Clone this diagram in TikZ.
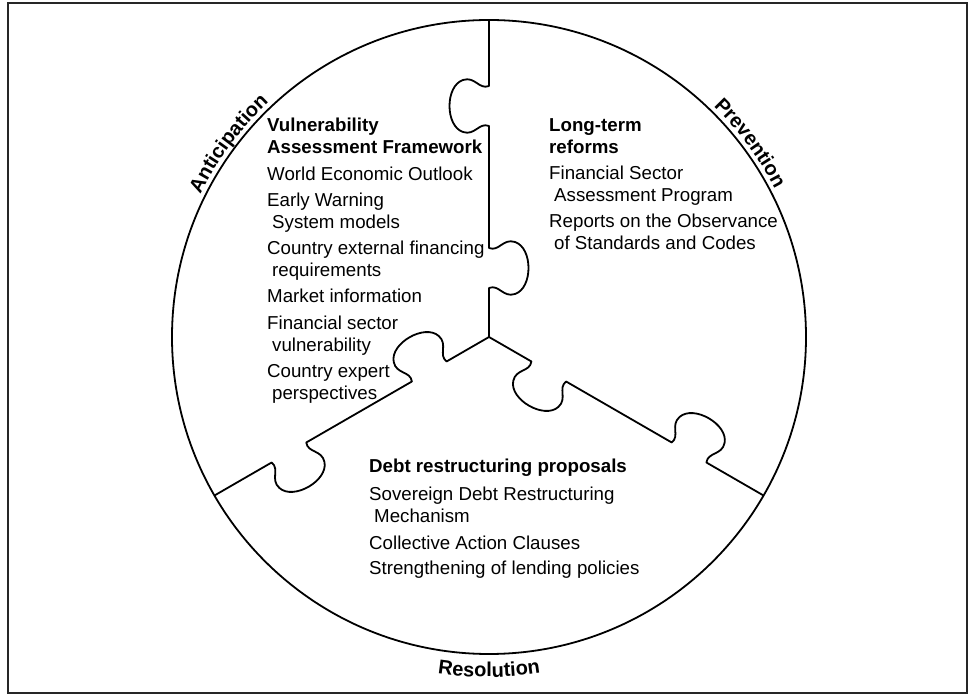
\documentclass[tikz,border=0pt]{standalone}
\usepackage{fontspec}
\setmainfont{Liberation Sans}
\usetikzlibrary{decorations.text}
\newcommand\bodyfont{\fontsize{18.7}{22}\selectfont}
\newcommand\arcfont{\fontsize{20}{24}\selectfont\bfseries}
\tikzset{
    x=1pt, y=1pt, % one unit is one pixel of the layout
    puzzle/.style={line width=1.8pt, line join=round}, % circle and the borders of the pieces
    knob/.style n args={2}{insert path={-- (#1,0) .. controls (#1+4,10*#2) and (#1-10,14*#2) .. (#1-6,26*#2) .. controls (#1,44*#2) and (#1+40,44*#2) .. (#1+46,26*#2) .. controls (#1+50,14*#2) and (#1+36,10*#2) .. (#1+40,0)}}, % one tab of a piece
    column/.style={anchor=north west, align=left, inner sep=0pt, font=\bodyfont}, % text of a piece
    arclabel/.style={decorate, decoration={text along path, text align=center, text={|\arcfont|#1}}} % name on the rim
}

\begin{document}
\begin{tikzpicture}
		\useasboundingbox (0,0) rectangle (975,696);
		\draw[line width=2.5pt, black!85] (8,3) rectangle (967,693);
		\coordinate (C) at (489,359);

		% Pieces
		\draw[puzzle] (C) circle[radius=317];
		\foreach \ang in {90,210,330}
			\draw[puzzle, shift={(C)}, rotate=\ang] (0,0) [knob={49}{-1}] [knob={211}{1}] -- (317,0);

		% Texts
		\node[column] (vaf) at (267,578) {\textbf{Vulnerability}\\
			\textbf{Assessment Framework}\\[4.3pt]
			World Economic Outlook\\[4.3pt]
			Early Warning\\
			\hspace*{5pt}System models\\[4.3pt]
			Country external financing\\
			\hspace*{5pt}requirements\\[4.3pt]
			Market information\\[4.3pt]
			Financial sector\\
			\hspace*{5pt}vulnerability\\[4.3pt]
			Country expert\\
			\hspace*{5pt}perspectives};
		\node[column] (ltr) at (549,578) {\textbf{Long-term}\\
			\textbf{reforms}\\[4.3pt]
			Financial Sector\\
			\hspace*{5pt}Assessment Program\\[4.3pt]
			Reports on the Observance\\
			\hspace*{5pt}of Standards and Codes};
		\node[column] (drp) at (369,237.5) {\textbf{Debt restructuring proposals}\\[6pt]
			Sovereign Debt Restructuring\\
			\hspace*{5pt}Mechanism\\[5pt]
			Collective Action Clauses\\[3.5pt]
			Strengthening of lending policies};

		% Labels
		\path[arclabel=Anticipation] (C) ++(173.4:322) arc[start angle=173.4, end angle=113.4, radius=322];
		\path[arclabel=Prevention] (C) ++(66.6:322) arc[start angle=66.6, end angle=6.6, radius=322];
		\path[arclabel=Resolution] (C) ++(240:340) arc[start angle=240, end angle=300, radius=340];
	\end{tikzpicture}
\end{document}
